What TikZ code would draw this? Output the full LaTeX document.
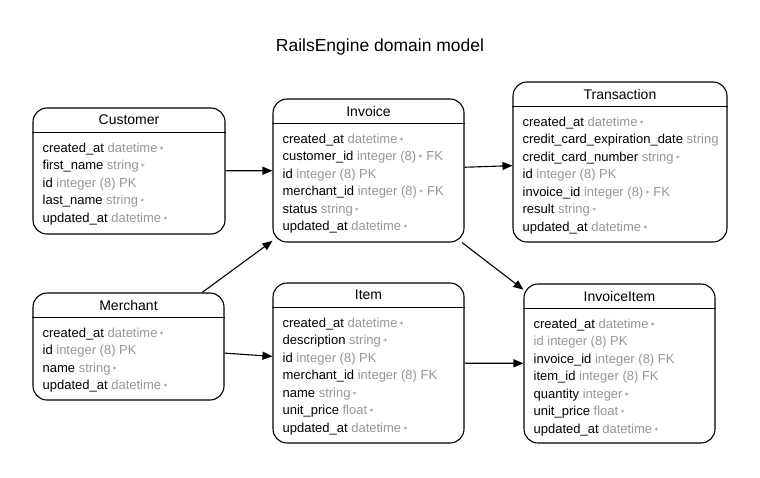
\documentclass[tikz,border=0pt]{standalone}
\usepackage{fontspec}
\setmainfont{Liberation Sans}
\usetikzlibrary{positioning, arrows.meta}
\definecolor{attrGray}{RGB}{150, 150, 150}
\definecolor{starGray}{RGB}{110, 110, 110}
\newcommand{\ty}[1]{\textcolor{attrGray}{#1}}
\newcommand{\notnull}{\,\raisebox{2pt}{\footnotesize\textcolor{starGray}{$\ast$}}}

\tikzset{
  entity/.style={draw, line width=1.1pt, rounded corners=14pt, inner sep=0pt},
  entityname/.style={minimum height=25pt, inner sep=0pt, font=\fontsize{14}{16}\selectfont},
  attrs/.style={align=left, inner sep=0pt, anchor=north west, font=\fontsize{13}{17.5}\selectfont},
  sep/.style={line width=1.1pt},
  rel/.style={-{Triangle[length=10pt,width=8pt]}, line width=1.1pt},
}

\begin{document}
\begin{tikzpicture}[x=1pt, y=-1pt]
  \useasboundingbox (0,0) rectangle (760,477);
  \node[font=\fontsize{17.5}{20}\selectfont] (title) at (380,47) {RailsEngine domain model};

  % Customer
  \node[entity, minimum width=192pt, minimum height=126pt] (customer) at (129,171) {};
  \node[entityname, below=0pt of customer.north] (customer-name) {Customer};
  \draw[sep] (customer.west |- customer-name.south) -- (customer.east |- customer-name.south);
  \node[attrs] (customer-attrs) at ([shift={(10,10)}]customer.west |- customer-name.south)
    {created\_at \ty{datetime}\notnull\\
     first\_name \ty{string}\notnull\\
     id \ty{integer (8) PK}\\
     last\_name \ty{string}\notnull\\
     updated\_at \ty{datetime}\notnull};

  % Invoice
  \node[entity, minimum width=191pt, minimum height=143pt] (invoice) at (368.5,170.5) {};
  \node[entityname, below=0pt of invoice.north] (invoice-name) {Invoice};
  \draw[sep] (invoice.west |- invoice-name.south) -- (invoice.east |- invoice-name.south);
  \node[attrs] (invoice-attrs) at ([shift={(10,10)}]invoice.west |- invoice-name.south)
    {created\_at \ty{datetime}\notnull\\
     customer\_id \ty{integer (8)}\notnull\ \ty{FK}\\
     id \ty{integer (8) PK}\\
     merchant\_id \ty{integer (8)}\notnull\ \ty{FK}\\
     status \ty{string}\notnull\\
     updated\_at \ty{datetime}\notnull};

  % Transaction
  \node[entity, minimum width=214pt, minimum height=160pt] (transaction) at (620,162) {};
  \node[entityname, below=0pt of transaction.north] (transaction-name) {Transaction};
  \draw[sep] (transaction.west |- transaction-name.south) -- (transaction.east |- transaction-name.south);
  \node[attrs] (transaction-attrs) at ([shift={(10,10)}]transaction.west |- transaction-name.south)
    {created\_at \ty{datetime}\notnull\\
     credit\_card\_expiration\_date \ty{string}\\
     credit\_card\_number \ty{string}\notnull\\
     id \ty{integer (8) PK}\\
     invoice\_id \ty{integer (8)}\notnull\ \ty{FK}\\
     result \ty{string}\notnull\\
     updated\_at \ty{datetime}\notnull};

  % Merchant
  \node[entity, minimum width=191pt, minimum height=107pt] (merchant) at (128.5,346.5) {};
  \node[entityname, below=0pt of merchant.north] (merchant-name) {Merchant};
  \draw[sep] (merchant.west |- merchant-name.south) -- (merchant.east |- merchant-name.south);
  \node[attrs] (merchant-attrs) at ([shift={(10,10)}]merchant.west |- merchant-name.south)
    {created\_at \ty{datetime}\notnull\\
     id \ty{integer (8) PK}\\
     name \ty{string}\notnull\\
     updated\_at \ty{datetime}\notnull};

  % Item
  \node[entity, minimum width=191pt, minimum height=160pt] (item) at (368.5,363) {};
  \node[entityname, below=0pt of item.north] (item-name) {Item};
  \draw[sep] (item.west |- item-name.south) -- (item.east |- item-name.south);
  \node[attrs] (item-attrs) at ([shift={(10,10)}]item.west |- item-name.south)
    {created\_at \ty{datetime}\notnull\\
     description \ty{string}\notnull\\
     id \ty{integer (8) PK}\\
     merchant\_id \ty{integer (8) FK}\\
     name \ty{string}\notnull\\
     unit\_price \ty{float}\notnull\\
     updated\_at \ty{datetime}\notnull};

  % InvoiceItem
  \node[entity, minimum width=191pt, minimum height=159pt] (invoiceitem) at (619.5,363.5) {};
  \node[entityname, below=0pt of invoiceitem.north] (invoiceitem-name) {InvoiceItem};
  \draw[sep] (invoiceitem.west |- invoiceitem-name.south) -- (invoiceitem.east |- invoiceitem-name.south);
  \node[attrs] (invoiceitem-attrs) at ([shift={(10,10)}]invoiceitem.west |- invoiceitem-name.south)
    {created\_at \ty{datetime}\notnull\\
     \ty{id integer (8) PK}\\
     invoice\_id \ty{integer (8) FK}\\
     item\_id \ty{integer (8) FK}\\
     quantity \ty{integer}\notnull\\
     unit\_price \ty{float}\notnull\\
     updated\_at \ty{datetime}\notnull};

  % relations
  \draw[rel] (customer) -- (invoice);
  \draw[rel] (merchant) -- (invoice);
  \draw[rel] (invoice) -- (transaction);
  \draw[rel] (invoice) -- (invoiceitem);
  \draw[rel] (merchant) -- (item);
  \draw[rel] (item) -- (invoiceitem);
\end{tikzpicture}
\end{document}
